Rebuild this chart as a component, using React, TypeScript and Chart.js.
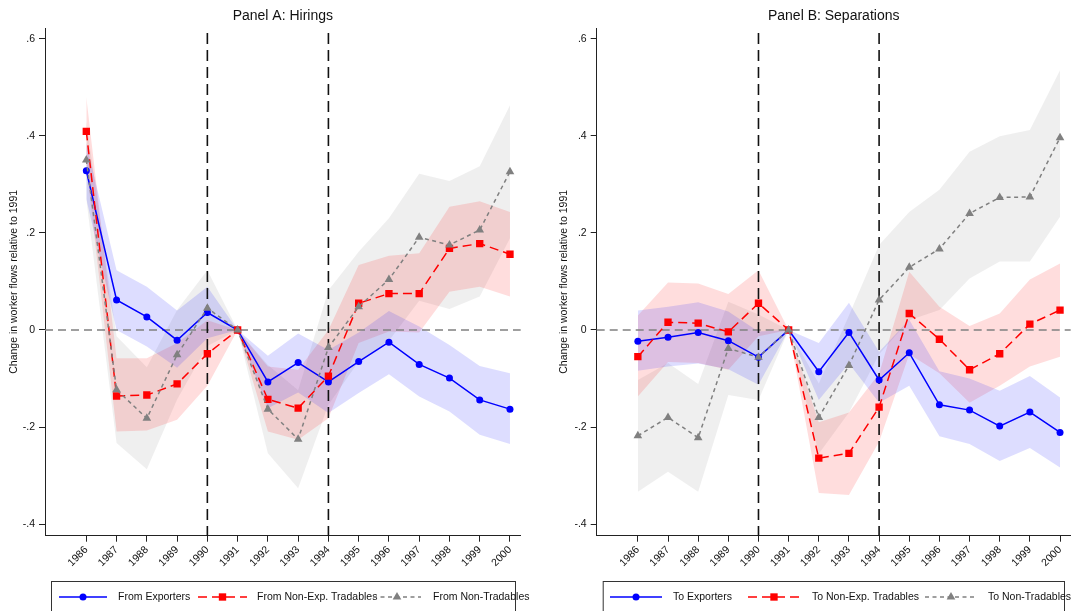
import React, { useEffect, useRef } from 'react';
import { Chart, registerables } from 'chart.js';

Chart.register(...registerables);

const FONT = '"Liberation Sans", Arial, Helvetica, sans-serif';
const TEXT = '#111111';
const AXIS = '#222222';

// ---------- data ----------
const years = [1986, 1987, 1988, 1989, 1990, 1991, 1992, 1993, 1994, 1995, 1996, 1997, 1998, 1999, 2000];
const yTickValues = [-0.4, -0.2, 0, 0.2, 0.4, 0.6];
const yTickLabels = ['-.4', '-.2', '0', '.2', '.4', '.6'];
const eventYears = [1990, 1994];
const yTitle = 'Change in worker flows relative to 1991';

// Panel A: Hirings
const hireExp = [0.328, 0.062, 0.027, -0.021, 0.036, 0, -0.107, -0.067, -0.107, -0.065, -0.025, -0.071, -0.099, -0.144, -0.163];
const hireExpLo = [0.27, 0.0, -0.034, -0.078, -0.017, 0, -0.161, -0.129, -0.171, -0.13, -0.091, -0.137, -0.168, -0.216, -0.235];
const hireExpHi = [0.385, 0.123, 0.089, 0.04, 0.089, 0, -0.053, -0.007, -0.041, -0.005, 0.039, 0.007, -0.031, -0.074, -0.089];
const hireNet = [0.409, -0.136, -0.134, -0.111, -0.049, 0, -0.143, -0.161, -0.095, 0.055, 0.075, 0.075, 0.168, 0.178, 0.156];
const hireNetLo = [0.34, -0.209, -0.207, -0.185, -0.115, 0, -0.209, -0.226, -0.182, -0.027, -0.003, -0.005, 0.079, 0.089, 0.069];
const hireNetHi = [0.48, -0.058, -0.058, -0.027, 0.02, 0, -0.075, -0.082, 0.0, 0.134, 0.153, 0.158, 0.254, 0.265, 0.243];
const hireNt = [0.35, -0.123, -0.182, -0.051, 0.045, 0, -0.163, -0.225, -0.036, 0.048, 0.104, 0.191, 0.175, 0.206, 0.326];
const hireNtLo = [0.27, -0.233, -0.287, -0.143, -0.033, 0, -0.254, -0.326, -0.154, -0.065, -0.022, 0.06, 0.043, 0.069, 0.189];
const hireNtHi = [0.43, -0.013, -0.077, 0.041, 0.123, 0, -0.072, -0.124, 0.082, 0.161, 0.23, 0.322, 0.307, 0.337, 0.463];

// Panel B: Separations
const sepExp = [-0.023, -0.015, -0.005, -0.022, -0.056, 0, -0.086, -0.005, -0.103, -0.047, -0.154, -0.165, -0.198, -0.169, -0.211];
const sepExpLo = [-0.084, -0.075, -0.069, -0.081, -0.113, 0, -0.144, -0.069, -0.15, -0.115, -0.219, -0.235, -0.27, -0.243, -0.283];
const sepExpHi = [0.04, 0.048, 0.057, 0.038, -0.003, 0, -0.027, 0.056, -0.045, 0.021, -0.085, -0.1, -0.125, -0.095, -0.139];
const sepNet = [-0.055, 0.016, 0.014, -0.004, 0.055, 0, -0.264, -0.254, -0.159, 0.034, -0.019, -0.082, -0.049, 0.012, 0.041];
const sepNetLo = [-0.137, -0.066, -0.068, -0.082, -0.013, 0, -0.336, -0.34, -0.23, -0.05, -0.089, -0.15, -0.115, -0.075, -0.055];
const sepNetHi = [0.03, 0.098, 0.096, 0.074, 0.123, 0, -0.19, -0.17, -0.09, 0.12, 0.048, 0.008, 0.034, 0.104, 0.137];
const sepNt = [-0.218, -0.18, -0.222, -0.038, -0.056, 0, -0.18, -0.073, 0.062, 0.129, 0.167, 0.24, 0.273, 0.274, 0.396];
const sepNtLo = [-0.333, -0.292, -0.333, -0.134, -0.144, 0, -0.255, -0.17, -0.05, 0.02, 0.041, 0.106, 0.141, 0.141, 0.233];
const sepNtHi = [-0.103, -0.068, -0.111, 0.058, 0.032, 0, -0.11, 0.03, 0.175, 0.243, 0.289, 0.367, 0.399, 0.412, 0.535];

// ---------- styles / layout ----------
type StyleKey = 'exp' | 'net' | 'nt';
const styles: Record<StyleKey, any> = {
  exp: { color: '#0000ff', band: 'rgba(0,0,255,0.135)', dash: [], point: 'circle', r: 3.5 },
  net: { color: '#ff0000', band: 'rgba(255,0,0,0.135)', dash: [9, 5], point: 'rect', r: 5.2 },
  nt: { color: '#808080', band: 'rgba(128,128,128,0.13)', dash: [4, 3.5], point: 'triangle', r: 5 },
};

const X_MIN = 1984.635;
const X_MAX = 2000.354;
const Y_MIN = -0.4237;
const Y_MAX = 0.622;

const panels = [
  {
    id: 'A',
    title: 'Panel A: Hirings',
    left: 0,
    width: 545,
    yWidth: 45,
    rightPad: 24.3,
    series: [
      { key: 'exp' as StyleKey, label: 'From Exporters', est: hireExp, lo: hireExpLo, hi: hireExpHi },
      { key: 'net' as StyleKey, label: 'From Non-Exp. Tradables', est: hireNet, lo: hireNetLo, hi: hireNetHi },
      { key: 'nt' as StyleKey, label: 'From Non-Tradables', est: hireNt, lo: hireNtLo, hi: hireNtHi },
    ],
    legendBox: [51, 515],
    legendKeys: [[59, 107, 118], [198, 247, 257], [373, 421, 433]],
  },
  {
    id: 'B',
    title: 'Panel B: Separations',
    left: 550,
    width: 526,
    yWidth: 46.7,
    rightPad: 5.3,
    series: [
      { key: 'exp' as StyleKey, label: 'To Exporters', est: sepExp, lo: sepExpLo, hi: sepExpHi },
      { key: 'net' as StyleKey, label: 'To Non-Exp. Tradables', est: sepNet, lo: sepNetLo, hi: sepNetHi },
      { key: 'nt' as StyleKey, label: 'To Non-Tradables', est: sepNt, lo: sepNtLo, hi: sepNtHi },
    ],
    legendBox: [52.7, 514],
    legendKeys: [[60, 112, 123], [198, 250, 262], [375, 427, 438]],
  },
];

function drawMarker(ctx: CanvasRenderingContext2D, kind: string, r: number, x: number, y: number, color: string) {
  ctx.save();
  ctx.fillStyle = color;
  ctx.beginPath();
  if (kind === 'circle') {
    ctx.arc(x, y, r, 0, Math.PI * 2);
  } else if (kind === 'rect') {
    const s = Math.SQRT1_2 * r;
    ctx.rect(x - s, y - s, 2 * s, 2 * s);
  } else {
    ctx.moveTo(x, y - r);
    ctx.lineTo(x + r * 0.866, y + r * 0.5);
    ctx.lineTo(x - r * 0.866, y + r * 0.5);
    ctx.closePath();
  }
  ctx.fill();
  ctx.restore();
}

function makeConfig(panel: any): any {
  const pts = (arr: number[]) => years.map((x, i) => ({ x, y: arr[i] }));
  const datasets: any[] = [];
  // lines: first dataset is drawn on top
  [2, 1, 0].forEach((idx) => {
    const s = panel.series[idx];
    const st = styles[s.key as StyleKey];
    datasets.push({
      label: s.label,
      data: pts(s.est),
      borderColor: st.color,
      borderWidth: 1.5,
      borderDash: st.dash,
      pointStyle: st.point,
      pointRadius: st.r,
      pointBackgroundColor: st.color,
      pointBorderWidth: 0,
      fill: false,
      tension: 0,
    });
  });
  panel.series.forEach((s: any) => {
    const st = styles[s.key as StyleKey];
    datasets.push({
      label: s.label + ' hi',
      data: pts(s.hi),
      borderColor: 'rgba(0,0,0,0)',
      borderWidth: 1,
      pointRadius: 0,
      backgroundColor: st.band,
      fill: '+1',
      tension: 0,
    });
    datasets.push({
      label: s.label + ' lo',
      data: pts(s.lo),
      borderColor: 'rgba(0,0,0,0)',
      borderWidth: 1,
      pointRadius: 0,
      fill: false,
      tension: 0,
    });
  });

  const overlay = {
    id: 'overlay' + panel.id,
    beforeDatasetsDraw(chart: any) {
      const { ctx, chartArea } = chart;
      const xs = chart.scales.x;
      const ys = chart.scales.y;
      ctx.save();
      // zero line
      ctx.strokeStyle = '#808080';
      ctx.lineWidth = 1.5;
      ctx.setLineDash([8, 5]);
      const y0 = ys.getPixelForValue(0);
      ctx.beginPath();
      ctx.moveTo(chartArea.left, y0);
      ctx.lineTo(chartArea.right, y0);
      ctx.stroke();
      // event lines
      ctx.strokeStyle = '#111111';
      ctx.lineWidth = 1.6;
      ctx.setLineDash([11, 6]);
      eventYears.forEach((yr) => {
        const px = xs.getPixelForValue(yr);
        ctx.beginPath();
        ctx.moveTo(px, chartArea.top + 5);
        ctx.lineTo(px, chartArea.bottom);
        ctx.stroke();
      });
      ctx.restore();
    },
    afterDraw(chart: any) {
      const { ctx, chartArea } = chart;
      ctx.save();
      // title
      ctx.fillStyle = TEXT;
      ctx.font = `14px ${FONT}`;
      ctx.textAlign = 'center';
      ctx.textBaseline = 'middle';
      ctx.fillText(panel.title, (chartArea.left + chartArea.right) / 2, 16);
      // legend box
      ctx.strokeStyle = '#333333';
      ctx.lineWidth = 1;
      ctx.setLineDash([]);
      const [bx0, bx1] = panel.legendBox;
      ctx.strokeRect(bx0 + 0.5, 581.5, bx1 - bx0, 40);
      const ly = 597;
      panel.series.forEach((s: any, i: number) => {
        const st = styles[s.key as StyleKey];
        const [k0, k1, tx] = panel.legendKeys[i];
        ctx.save();
        ctx.strokeStyle = st.color;
        ctx.lineWidth = 1.5;
        ctx.setLineDash(st.dash);
        ctx.beginPath();
        ctx.moveTo(k0, ly);
        ctx.lineTo(k1, ly);
        ctx.stroke();
        ctx.restore();
        drawMarker(ctx, st.point, st.r, (k0 + k1) / 2, ly, st.color);
        ctx.fillStyle = TEXT;
        ctx.font = `10.5px ${FONT}`;
        ctx.textAlign = 'left';
        ctx.textBaseline = 'middle';
        ctx.fillText(s.label, tx, ly);
      });
      ctx.restore();
    },
  };

  return {
    type: 'line',
    data: { datasets },
    plugins: [overlay],
    options: {
      responsive: false,
      animation: false,
      devicePixelRatio: 1,
      layout: { padding: { left: 0, right: panel.rightPad, top: 28, bottom: 0 } },
      plugins: {
        legend: { display: false },
        tooltip: { enabled: false },
        title: { display: false },
        filler: { drawTime: 'beforeDatasetsDraw', propagate: false },
      },
      scales: {
        x: {
          type: 'linear',
          min: X_MIN,
          max: X_MAX,
          afterBuildTicks: (s: any) => {
            s.ticks = years.map((v) => ({ value: v }));
          },
          afterFit: (s: any) => {
            s.height = 75.3;
          },
          ticks: {
            autoSkip: false,
            minRotation: 45,
            maxRotation: 45,
            padding: 2,
            color: TEXT,
            font: { family: FONT, size: 10.5 },
            callback: (v: any) => String(v),
          },
          grid: { drawOnChartArea: false, drawTicks: true, tickLength: 6, color: AXIS, lineWidth: 1 },
          border: { display: true, color: AXIS, width: 1 },
        },
        y: {
          type: 'linear',
          min: Y_MIN,
          max: Y_MAX,
          afterBuildTicks: (s: any) => {
            s.ticks = yTickValues.map((v) => ({ value: v }));
          },
          afterFit: (s: any) => {
            s.width = panel.yWidth;
          },
          ticks: {
            padding: 4,
            color: TEXT,
            font: { family: FONT, size: 10.5 },
            callback: (v: any) => {
              const i = yTickValues.findIndex((t) => Math.abs(t - v) < 1e-9);
              return i >= 0 ? yTickLabels[i] : '';
            },
          },
          grid: { drawOnChartArea: false, drawTicks: true, tickLength: 6, color: AXIS, lineWidth: 1 },
          border: { display: true, color: AXIS, width: 1 },
          title: {
            display: true,
            text: yTitle,
            color: TEXT,
            font: { family: FONT, size: 10.5 },
            padding: { top: 8, bottom: 0 },
          },
        },
      },
    },
  };
}

function Panel({ panel }: { panel: any }) {
  const ref = useRef<HTMLCanvasElement | null>(null);
  useEffect(() => {
    if (!ref.current) return;
    const chart = new Chart(ref.current, makeConfig(panel));
    return () => chart.destroy();
  }, [panel]);
  return (
    <canvas
      ref={ref}
      width={panel.width}
      height={611}
      style={{ position: 'absolute', left: panel.left, top: 0, width: panel.width, height: 611 }}
    />
  );
}

export default function App() {
  return (
    <div
      style={{
        position: 'fixed',
        left: 0,
        top: 0,
        width: 1076,
        height: 611,
        background: '#ffffff',
        overflow: 'hidden',
      }}
    >
      {panels.map((p) => (
        <Panel key={p.id} panel={p} />
      ))}
    </div>
  );
}
